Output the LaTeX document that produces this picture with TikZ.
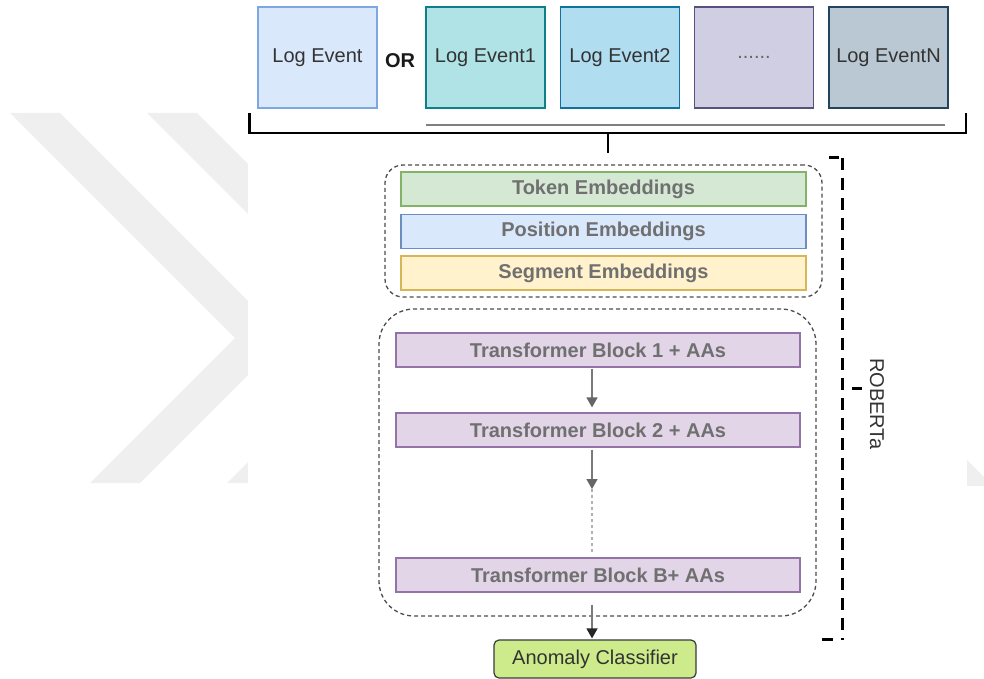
\documentclass[tikz,border=0pt]{standalone}
\usepackage{fontspec}
\setmainfont{Liberation Sans}
\usetikzlibrary{arrows.meta,calc}

\definecolor{wmgray}{HTML}{EFEFEF}
\definecolor{evAf}{HTML}{DAE8FC}\definecolor{evAd}{HTML}{7EA6E0}
\definecolor{evBf}{HTML}{B0E3E6}\definecolor{evBd}{HTML}{0E8088}
\definecolor{evCf}{HTML}{B1DDF0}\definecolor{evCd}{HTML}{10739E}
\definecolor{evDf}{HTML}{D0CEE2}\definecolor{evDd}{HTML}{56517E}
\definecolor{evEf}{HTML}{BAC8D3}\definecolor{evEd}{HTML}{23445D}
\definecolor{tokf}{HTML}{D5E8D4}\definecolor{tokd}{HTML}{82B366}
\definecolor{posf}{HTML}{DAE8FC}\definecolor{posd}{HTML}{6C8EBF}
\definecolor{segf}{HTML}{FFF2CC}\definecolor{segd}{HTML}{D6B656}
\definecolor{trff}{HTML}{E1D5E7}\definecolor{trfd}{HTML}{9673A6}
\definecolor{clsf}{HTML}{CDEB8B}\definecolor{clsd}{HTML}{36393D}
\definecolor{txtdark}{HTML}{333333}
\definecolor{txtgray}{HTML}{707070}
\definecolor{grpline}{HTML}{4D4D4D}
\definecolor{arrline}{HTML}{7A7A7A}
\definecolor{arrhead}{HTML}{666666}

\begin{document}
\begin{tikzpicture}[x=1pt,y=-1pt,
  basefont/.style={font=\fontsize{20}{24}\selectfont},
  evbox/.style={basefont, draw, line width=1.2pt, minimum width=119pt,
    minimum height=101pt, inner sep=0pt, text=txtdark},
  ortext/.style={font=\fontsize{20}{24}\selectfont\bfseries, text=black!90, inner sep=0pt},
  embbox/.style={draw, line width=1.2pt, minimum width=405pt, minimum height=34pt,
    inner sep=0pt, font=\fontsize{20}{24}\selectfont\bfseries, text=txtgray},
  trfbox/.style={embbox, fill=trff, draw=trfd, minimum width=404pt},
  grpbox/.style={draw=grpline, line width=1.3pt, dash pattern=on 4pt off 3pt, inner sep=0pt},
  brk/.style={draw=black, line width=2.6pt},
  underline/.style={draw=gray, line width=2.4pt},
  robbrace/.style={draw=black, line width=3pt, dash pattern=on 12pt off 8pt},
  robtick/.style={draw=black, line width=3pt},
  flow/.style={draw=arrline, line width=1.5pt,
    -{Triangle[length=10pt,width=11pt,color=arrhead]}},
  flowdark/.style={draw=arrline, line width=1.5pt,
    -{Triangle[length=10pt,width=11pt,color=black!85]}},
  dotflow/.style={draw=black!30, line width=1.5pt, dash pattern=on 3pt off 3pt}
]
\useasboundingbox (0,0) rectangle (984,679);

% faint background watermark
\fill[wmgray] (10,113) -- (60,113) -- (285,338) -- (140,483) -- (90,483) -- (235,338) -- cycle;
\fill[wmgray] (147,113) -- (197,113) -- (422,338) -- (277,483) -- (227,483) -- (372,338) -- cycle;
\fill[wmgray] (967,460) -- (984,477) -- (984,486) -- (967,486) -- cycle;
\fill[white] (248,0) rectangle (967,679);

% input log events
\node[evbox, fill=evAf, draw=evAd] (ev0) at (317.5,57.5) {Log Event};
\node[ortext] (or) at (400,61) {OR};
\node[evbox, fill=evBf, draw=evBd] (ev1) at (485.5,57.5) {Log Event1};
\node[evbox, fill=evCf, draw=evCd] (ev2) at (620,57.5) {Log Event2};
\node[evbox, fill=evDf, draw=evDd, text=arrhead] (ev3) at (754,57.5) {......};
\node[evbox, fill=evEf, draw=evEd] (ev4) at (888.5,57.5) {Log EventN};

% grouping bracket under the events
\coordinate (brl) at (249.5,113);
\coordinate (brr) at (966,113);
\coordinate (brc) at (608,133);
\coordinate (brt) at (608,153);
\draw[brk] (brl) |- (brc) -| (brr);
\draw[brk] (brc) -- (brt);
\coordinate (ull) at (426,125);
\coordinate (ulr) at (945,125);
\draw[underline] (ull) -- (ulr);

% embedding layers
\node[grpbox, minimum width=437pt, minimum height=132pt, rounded corners=18pt] (embgrp) at (603.5,231) {};
\node[embbox, fill=tokf, draw=tokd] (tok) at (603.5,189) {Token Embeddings};
\node[embbox, fill=posf, draw=posd] (pos) at (603.5,231.5) {Position Embeddings};
\node[embbox, fill=segf, draw=segd] (seg) at (603.5,273) {Segment Embeddings};

% transformer stack
\node[grpbox, minimum width=437pt, minimum height=307pt, rounded corners=35pt] (trfgrp) at (597.5,462.5) {};
\node[trfbox] (b1) at (598,350) {Transformer Block 1 + AAs};
\node[trfbox] (b2) at (598,430) {Transformer Block 2 + AAs};
\node[trfbox] (bb) at (598,575) {Transformer Block B+ AAs};

% classifier
\node[basefont, draw=clsd, fill=clsf, line width=1.2pt, rounded corners=5pt,
  minimum width=202pt, minimum height=38pt, inner sep=0pt, text=txtdark] (cls) at (595,659) {Anomaly Classifier};

% data flow
\coordinate (axis) at (592,0);
\coordinate (gap) at (592,489);
\draw[flow, shorten <=1pt, shorten >=5pt] (b1.south -| axis) -- (b2.north -| axis);
\draw[flow, shorten <=2pt] (b2.south -| axis) -- (gap);
\draw[dotflow, shorten >=5pt] (gap) -- (bb.north -| axis);
\draw[flowdark, shorten <=12pt, shorten >=1pt] (bb.south -| axis) -- (cls.north -| axis);

% RoBERTa brace
\coordinate (rt) at (842,158);
\coordinate (rb) at (842,640);
\draw[robbrace] (rt) -- (rb);
\coordinate (rtl) at (829,158);
\coordinate (rtr) at (839,158);
\draw[robtick] (rtl) -- (rtr);
\coordinate (rml) at (852,388);
\coordinate (rmr) at (862,388);
\draw[robtick] (rml) -- (rmr);
\coordinate (rbl) at (822,639);
\coordinate (rbr) at (833,639);
\draw[robtick] (rbl) -- (rbr);
\node[basefont, rotate=-90, text=txtdark, inner sep=0pt] (rob) at (877,404) {ROBERTa};
\end{tikzpicture}
\end{document}
